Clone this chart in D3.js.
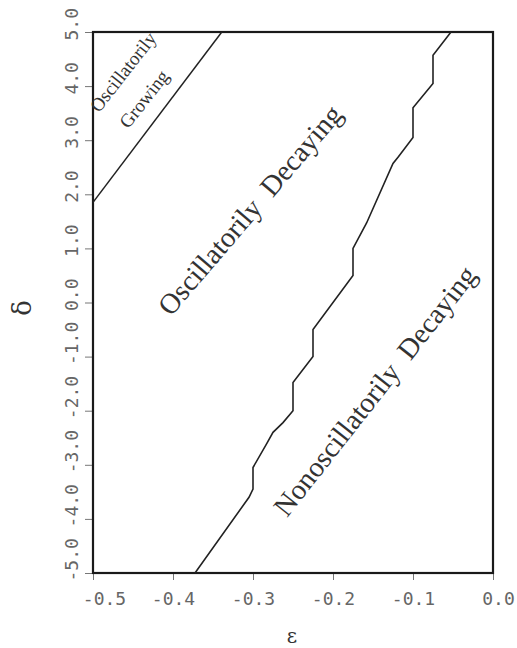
<!DOCTYPE html>
<html>
<head>
<meta charset="utf-8">
<script src="https://cdn.jsdelivr.net/npm/d3@7"></script>
<style>
  body { margin: 0; background: #fff; }
  .tick line { stroke: #777; stroke-width: 1; }
  .tick text { font-family: "DejaVu Sans Mono", monospace; font-size: 18px; fill: #666; }
  .region { font-family: "Liberation Serif", "Times New Roman", serif; fill: #333; white-space: pre; }
  .axisTitle { font-family: "DejaVu Serif", serif; fill: #333; }
</style>
</head>
<body>
<div class="chart"></div>
<script>
var svgWidth = 517;
var svgHeight = 648;

// tick values and labels
var xTicks = [-0.5, -0.4, -0.3, -0.2, -0.1, 0.0];
var xTickLabels = ["-0.5", "-0.4", "-0.3", "-0.2", "-0.1", "0.0"];
var yTicks = [-5, -4, -3, -2, -1, 0, 1, 2, 3, 4, 5];
var yTickLabels = ["-5.0", "-4.0", "-3.0", "-2.0", "-1.0", "0.0", "1.0", "2.0", "3.0", "4.0", "5.0"];

// boundary between oscillatorily growing and oscillatorily decaying
var growEps = [-0.5, -0.339];
var growDelta = [1.85, 5.0];

// boundary between oscillatorily and nonoscillatorily decaying
var decayEps = [-0.3725, -0.305, -0.3, -0.3, -0.2825, -0.275, -0.2625, -0.25, -0.25, -0.225, -0.225,
  -0.175, -0.175, -0.158, -0.125, -0.118, -0.1, -0.1, -0.075, -0.075, -0.0525];
var decayDelta = [-5.0, -3.6, -3.45, -3.05, -2.6, -2.4, -2.22, -2.0, -1.48, -1.0, -0.5,
  0.5, 1.0, 1.47, 2.57, 2.7, 3.05, 3.6, 4.05, 4.57, 5.0];

var svg = d3.select(".chart")
  .append("svg")
  .attr("width", svgWidth)
  .attr("height", svgHeight);

var x = d3.scaleLinear().domain([-0.5, 0]).range([93, 493]);
var y = d3.scaleLinear().domain([-5, 5]).range([573, 32]);

// x axis
var xAxis = svg.append("g")
  .attr("transform", "translate(0," + y(-5) + ")")
  .call(d3.axisBottom(x)
    .tickValues(xTicks)
    .tickSize(7)
    .tickPadding(12)
    .tickFormat(function(d, i) { return xTickLabels[i]; }));
xAxis.select(".domain").remove();
// end labels sit a little inward/outward in the original
xAxis.selectAll(".tick text")
  .attr("dx", function(d, i) { return i === 0 ? 11 : (i === xTicks.length - 1 ? 5 : 0); });

// y axis, labels rotated
var yAxis = svg.append("g")
  .attr("transform", "translate(" + x(-0.5) + ",0)")
  .call(d3.axisLeft(y)
    .tickValues(yTicks)
    .tickSize(8)
    .tickFormat(function(d, i) { return yTickLabels[i]; }));
yAxis.select(".domain").remove();
yAxis.selectAll(".tick text")
  .attr("x", 0)
  .attr("dy", null)
  .attr("text-anchor", "start")
  .attr("transform", "translate(-15,8) rotate(-90)");

// frame
svg.append("rect")
  .attr("x", x(-0.5))
  .attr("y", y(5))
  .attr("width", x(0) - x(-0.5))
  .attr("height", y(-5) - y(5))
  .style("fill", "none")
  .style("stroke", "#1a1a1a")
  .style("stroke-width", 2.2);

var line = d3.line()
  .x(function(d) { return x(d[0]); })
  .y(function(d) { return y(d[1]); });

svg.append("path")
  .datum(d3.zip(growEps, growDelta))
  .attr("d", line)
  .style("fill", "none")
  .style("stroke", "#222")
  .style("stroke-width", 1.5);

svg.append("path")
  .datum(d3.zip(decayEps, decayDelta))
  .attr("d", line)
  .style("fill", "none")
  .style("stroke", "#222")
  .style("stroke-width", 1.6);

// region labels
function region(text, cx, cy, angle, size) {
  svg.append("text")
    .attr("class", "region")
    .attr("transform", "translate(" + cx + "," + cy + ") rotate(" + angle + ")")
    .attr("text-anchor", "middle")
    .attr("dominant-baseline", "central")
    .style("font-size", size + "px")
    .text(text);
}
region("Oscillatorily  Decaying", 250, 210, -49.4, 28.5);
region("Nonoscillatorily  Decaying", 375, 391, -51.8, 28.5);
region("Oscillatorily", 123, 72, -52, 19);
region("Growing", 144, 99, -52, 19);

// axis titles
svg.append("text")
  .attr("class", "axisTitle")
  .attr("x", 292)
  .attr("y", 643)
  .attr("text-anchor", "middle")
  .style("font-size", "20px")
  .text("ε");

svg.append("text")
  .attr("class", "axisTitle")
  .attr("transform", "translate(31,308) rotate(-90)")
  .attr("text-anchor", "middle")
  .style("font-size", "26px")
  .text("δ");
</script>
</body>
</html>
